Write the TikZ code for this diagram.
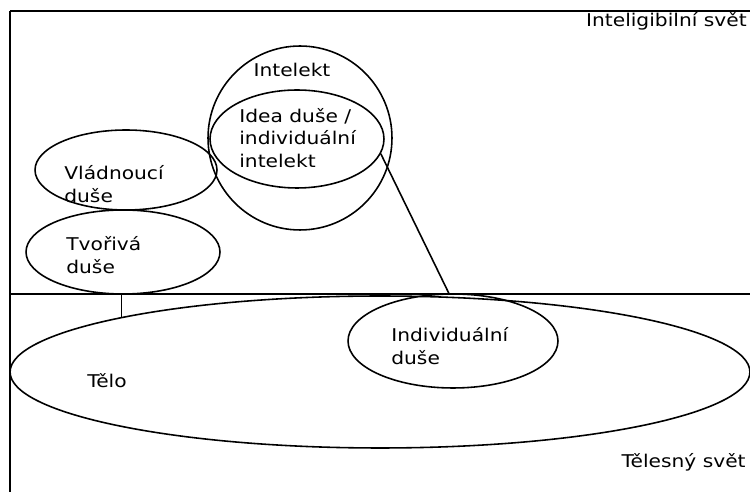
\documentclass[tikz,border=0pt]{standalone}
\usepackage{fontspec}
\newfontfamily\winfont[FakeStretch=1.15]{DejaVu Sans}
\usetikzlibrary{shapes.geometric}

\begin{document}
\begin{tikzpicture}[x=0.02cm, y=-0.02cm,
  soul/.style={ellipse, draw, line width=0.9pt, inner sep=0pt},
  lbl/.style={align=left, inner sep=0pt, font=\winfont\fontsize{10}{12.7}\selectfont},
  frame/.style={line width=0.9pt},
]
\useasboundingbox (0,0) rectangle (750,492);

% the two worlds
\draw[frame] (10,11) -- (10,492);
\draw[frame] (10,11) -- (750,11);
\draw[frame] (10,294) -- (750,294);

\node[soul, minimum width=14.8cm, minimum height=3.04cm] (telo) at (380,372) {};
\node[soul, minimum width=4.2cm, minimum height=1.88cm] (individualni) at (453,341) {};
\node[soul, minimum width=3.88cm, minimum height=1.68cm] (tvoriva) at (123,252) {};
\node[soul, minimum width=3.64cm, minimum height=1.6cm] (vladnouci) at (126,170) {};
\node[soul, circle, minimum size=3.68cm] (intelekt) at (300,138) {};
\node[soul, minimum width=3.48cm, minimum height=1.96cm] (idea) at (297,139) {};

\node[lbl, anchor=base east] (inteligibilni) at (747,27) {Inteligibilní svět};
\node[lbl, anchor=base east] (telesny) at (746,468) {Tělesný svět};
\node[lbl, anchor=base] (intelekttext) at (292,77) {Intelekt};
\node[lbl, anchor=west] (ideatext) at (239,138) {Idea duše /\\individuální\\intelekt};
\node[lbl, anchor=west] (vladnoucitext) at (64,184) {Vládnoucí\\duše};
\node[lbl, anchor=west] (tvorivatext) at (66,255) {Tvořivá\\duše};
\node[lbl, anchor=west] (individualnitext) at (391,346) {Individuální\\duše};
\node[lbl, anchor=base west] (telotext) at (87,388) {Tělo};

\draw[frame] (telo.168.8) -- (telo.168.8 |- tvoriva.south);
\draw[frame] (idea.-10) -- (individualni.95);

\end{tikzpicture}
\end{document}
